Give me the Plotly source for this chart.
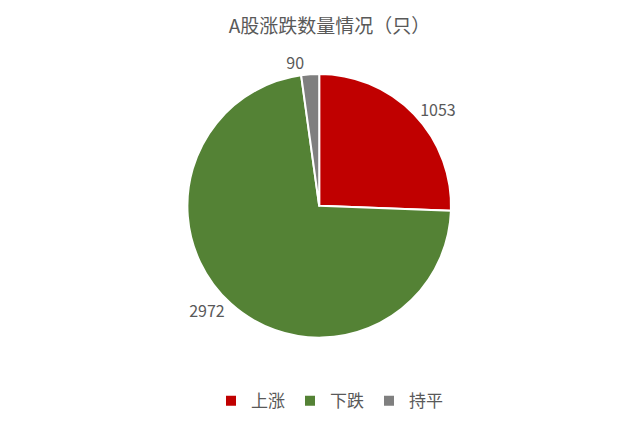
import plotly.graph_objects as go

# 数据
labels = ['上涨', '下跌', '持平']
values = [1053, 2972, 90]
colors = ['#C00000', '#548235', '#7F7F7F']

fig = go.Figure()

fig.add_trace(go.Pie(
    labels=labels,
    values=values,
    sort=False,
    direction='clockwise',
    rotation=0,
    marker=dict(colors=colors, line=dict(color='white', width=2)),
    textinfo='value',
    textposition='outside',
    textfont=dict(size=16, color='#595959'),
    domain=dict(x=[0.279, 0.689], y=[0.222, 0.847]),
    hole=0,
))

fig.update_layout(
    width=643,
    height=425,
    title=dict(text='A股涨跌数量情况（只）', x=0.5, y=0.958, xanchor='center', yanchor='middle',
               font=dict(size=19, color='#595959', family='Noto Sans CJK SC')),
    font=dict(family='Noto Sans CJK SC', color='#595959'),
    legend=dict(orientation='h', x=0.5, xanchor='center', y=0.075, yanchor='middle',
                font=dict(size=17, color='#595959'), traceorder='normal',
                itemwidth=30),
    margin=dict(l=0, r=0, t=0, b=0),
    paper_bgcolor='white',
    plot_bgcolor='white',
)

fig.write_html("out.html")
